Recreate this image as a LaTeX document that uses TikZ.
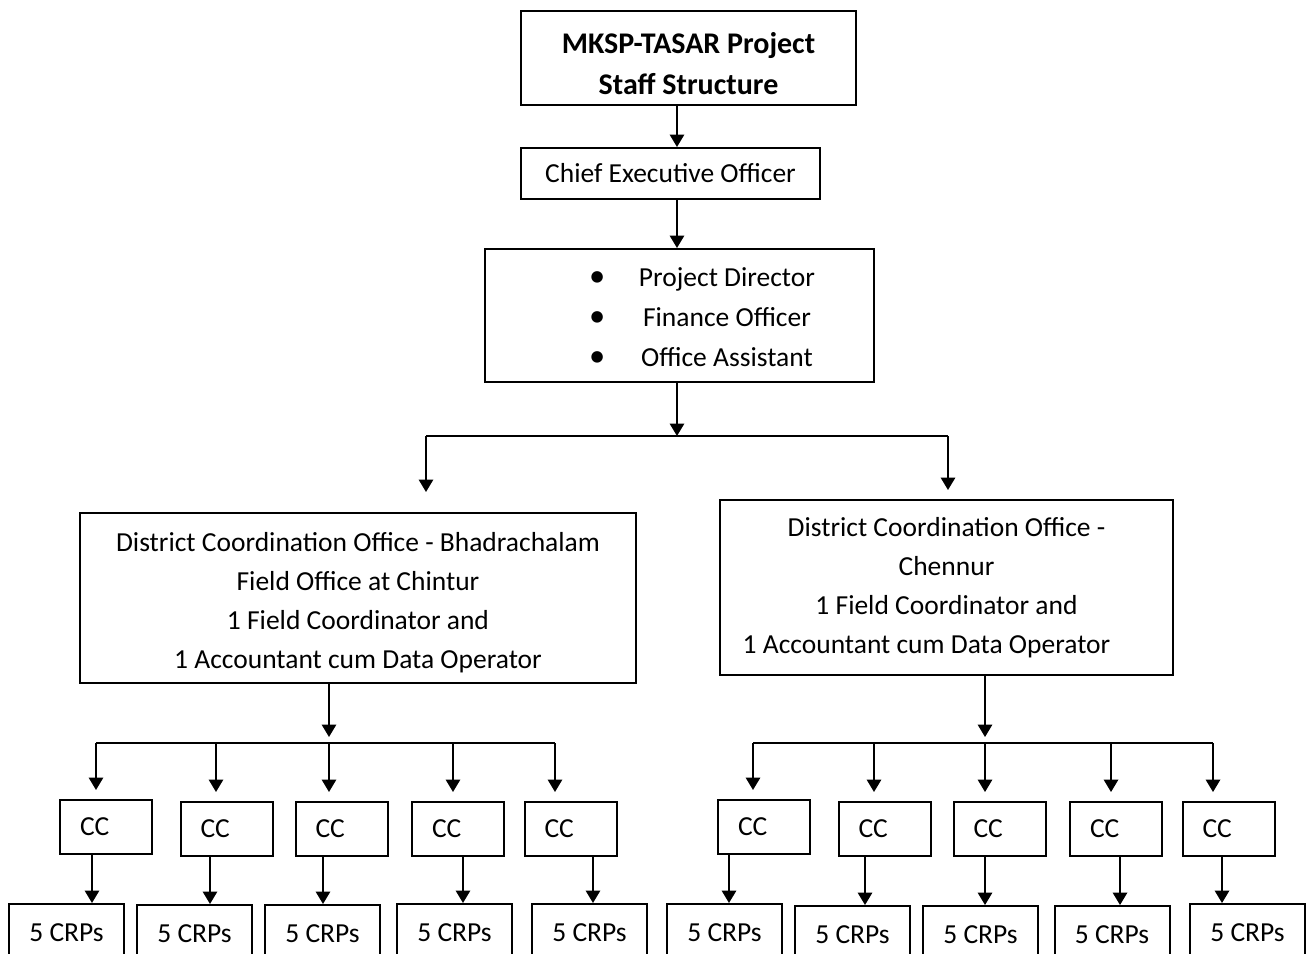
\documentclass[tikz,border=0pt]{standalone}
\usepackage{fontspec}
\setmainfont{Carlito}
\usepackage{tikz}
\usetikzlibrary{arrows.meta}

\newlength{\unitpx}
\setlength{\unitpx}{0.4pt}
\newcommand{\firstline}[1]{\rule{0pt}{#1}}

\begin{document}
\begin{tikzpicture}[
      x=0.4pt, y=-0.4pt,
      box/.style={draw, line width=0.8pt, inner sep=0pt, align=center, font=\fontsize{11}{15.6}\selectfont},
      head/.style={box, font=\bfseries\fontsize{12}{16.4}\selectfont},
      cc/.style={box, align=left, text width=52\unitpx, inner xsep=20\unitpx, minimum height=54\unitpx},
      crp/.style={box, anchor=north, minimum width=115\unitpx, minimum height=58\unitpx},
      line/.style={line width=0.7pt},
      arr/.style={line, -{Triangle[length=5pt, width=5.8pt]}},
      inarr/.style={arr, shorten >=9\unitpx}
    ]
    \useasboundingbox (0,0) rectangle (1311,953);
    \clip (0,0) rectangle (1311,953);

    % top of the tree
    \node[head, minimum width=335\unitpx, minimum height=94\unitpx] (title) at (688.5,58) {\firstline{13pt}MKSP-TASAR Project\\Staff Structure};
    \node[box, minimum width=299\unitpx, minimum height=51\unitpx] (ceo) at (670.5,173.5) {Chief Executive Officer};
    \node[box, minimum width=389\unitpx, minimum height=133\unitpx] (pd) at (679.5,315.5) {};
    \node[font=\fontsize{11}{16}\selectfont, inner sep=0pt] (pdlist) at (702,318.5)
      {\begin{tabular}{@{}c@{\hspace{13.5pt}}c@{}}
        {\fontsize{13}{16}\selectfont •} & Project Director\\
        {\fontsize{13}{16}\selectfont •} & Finance Officer\\
        {\fontsize{13}{16}\selectfont •} & Office Assistant
      \end{tabular}};

    \coordinate (spine) at (677,0);
    \coordinate (sM) at (677,436);
    \coordinate (sL) at (426,436);
    \coordinate (sR) at (948,436);

    % district offices
    \node[box, minimum width=556\unitpx, minimum height=170\unitpx] (dcoL) at (358,598)
      {\firstline{11pt}District Coordination Office - Bhadrachalam\\Field Office at Chintur\\1 Field Coordinator and\\1 Accountant cum Data Operator};
    \node[box, minimum width=453\unitpx, minimum height=175\unitpx] (dcoR) at (946.5,587.5)
      {\firstline{11pt}District Coordination Office -\\Chennur\\1 Field Coordinator and\\1 Accountant cum Data Operator\hspace{16pt}\strut};

    % cluster coordinators
    \node[cc] (cc1) at (106,827) {CC};
    \node[cc] (cc2) at (226.5,829) {CC};
    \node[cc] (cc3) at (341.5,829) {CC};
    \node[cc] (cc4) at (458,829) {CC};
    \node[cc] (cc5) at (570.5,829) {CC};
    \node[cc] (cc6) at (764,827) {CC};
    \node[cc] (cc7) at (884.5,829) {CC};
    \node[cc] (cc8) at (999.5,829) {CC};
    \node[cc] (cc9) at (1116,829) {CC};
    \node[cc] (cc10) at (1228.5,829) {CC};

    % resource persons
    \node[crp] (crp1) at (66.5,903) {5 CRPs};
    \node[crp] (crp2) at (194.5,904) {5 CRPs};
    \node[crp] (crp3) at (322.5,904) {5 CRPs};
    \node[crp] (crp4) at (454.5,903) {5 CRPs};
    \node[crp] (crp5) at (589.5,903) {5 CRPs};
    \node[crp] (crp6) at (724.5,903) {5 CRPs};
    \node[crp] (crp7) at (852.5,905) {5 CRPs};
    \node[crp] (crp8) at (980.5,905) {5 CRPs};
    \node[crp] (crp9) at (1112,905) {5 CRPs};
    \node[crp] (crp10) at (1247.5,903) {5 CRPs};

    % bus drops
    \coordinate (d1) at (96,743);
    \coordinate (d2) at (216,743);
    \coordinate (d3) at (329,743);
    \coordinate (d4) at (453,743);
    \coordinate (d5) at (555,743);
    \coordinate (d6) at (753,743);
    \coordinate (d7) at (874,743);
    \coordinate (d8) at (985,743);
    \coordinate (d9) at (1111,743);
    \coordinate (d10) at (1213,743);

    \draw[arr] (title.south -| spine) -- (ceo.north -| spine);
    \draw[arr] (ceo.south -| spine) -- (pd.north -| spine);
    \draw[arr] (pd.south -| spine) -- (sM);
    \draw[line] (sL) -- (sR);
    \draw[arr, shorten >=20\unitpx] (sL) -- (sL |- dcoL.north);
    \draw[arr, shorten >=9\unitpx] (sR) -- (sR |- dcoR.north);

    \draw[arr, shorten >=6\unitpx] (dcoL.south -| d3) -- (d3);
    \draw[line] (d1) -- (d5);
    \draw[inarr] (d1) -- (d1 |- cc1.north);
    \draw[inarr] (d2) -- (d2 |- cc2.north);
    \draw[inarr] (d3) -- (d3 |- cc3.north);
    \draw[inarr] (d4) -- (d4 |- cc4.north);
    \draw[inarr] (d5) -- (d5 |- cc5.north);

    \draw[arr, shorten >=6\unitpx] (dcoR.south -| d8) -- (d8);
    \draw[line] (d6) -- (d10);
    \draw[inarr] (d6) -- (d6 |- cc6.north);
    \draw[inarr] (d7) -- (d7 |- cc7.north);
    \draw[inarr] (d8) -- (d8 |- cc8.north);
    \draw[inarr] (d9) -- (d9 |- cc9.north);
    \draw[inarr] (d10) -- (d10 |- cc10.north);

    \draw[arr] ([xshift=-14\unitpx]cc1.south) -- ([xshift=-14\unitpx]cc1.south |- crp1.north);
    \draw[arr] ([xshift=-16.5\unitpx]cc2.south) -- ([xshift=-16.5\unitpx]cc2.south |- crp2.north);
    \draw[arr] ([xshift=-18.5\unitpx]cc3.south) -- ([xshift=-18.5\unitpx]cc3.south |- crp3.north);
    \draw[arr] ([xshift=5\unitpx]cc4.south) -- ([xshift=5\unitpx]cc4.south |- crp4.north);
    \draw[arr] ([xshift=22.5\unitpx]cc5.south) -- ([xshift=22.5\unitpx]cc5.south |- crp5.north);
    \draw[arr] ([xshift=-35\unitpx]cc6.south) -- ([xshift=-35\unitpx]cc6.south |- crp6.north);
    \draw[arr] ([xshift=-19.5\unitpx]cc7.south) -- ([xshift=-19.5\unitpx]cc7.south |- crp7.north);
    \draw[arr] ([xshift=-14.5\unitpx]cc8.south) -- ([xshift=-14.5\unitpx]cc8.south |- crp8.north);
    \draw[arr] ([xshift=4\unitpx]cc9.south) -- ([xshift=4\unitpx]cc9.south |- crp9.north);
    \draw[arr] ([xshift=-6.5\unitpx]cc10.south) -- ([xshift=-6.5\unitpx]cc10.south |- crp10.north);
  \end{tikzpicture}
\end{document}
